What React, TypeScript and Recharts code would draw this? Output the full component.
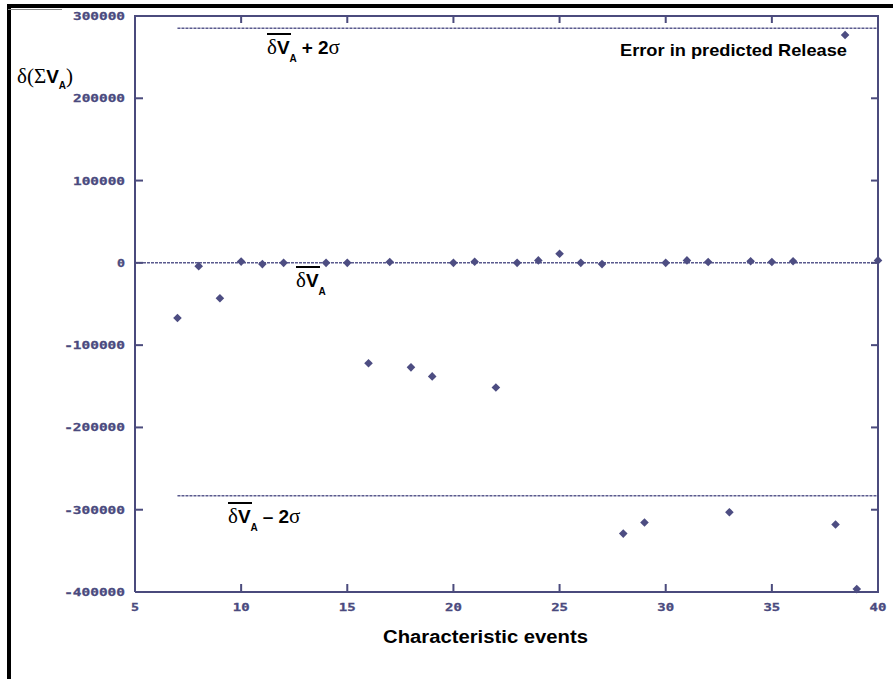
import React from 'react';
import { ScatterChart, Scatter, XAxis, YAxis, ReferenceLine } from 'recharts';

// ---- data ----
const events = [7, 8, 9, 10, 11, 12, 14, 15, 16, 17, 18, 19, 20, 21, 22, 23, 24, 25, 26, 27, 28, 29, 30, 31, 32, 33, 34, 35, 36, 38, 38.45, 39, 40];
const errors = [-67000, -4000, -43000, 1500, -1500, 0, 0, 0, -122000, 1000, -127000, -138000, 0, 1300, -151500, 0, 3000, 11000, 0, -1500, -329000, -315500, 0, 3000, 1000, -303000, 2000, 1000, 2000, -318000, 277000, -396500, 3000];
const xTicks = [5, 10, 15, 20, 25, 30, 35, 40];
const yTicks = [-400000, -300000, -200000, -100000, 0, 100000, 200000, 300000];
const xDomain = [5, 40];
const yDomain = [-400000, 300000];
const meanValue = 0;
const upperBound = 285000;
const lowerBound = -283000;
const boundStart = 7;
const boundEnd = 40;

const data = events.map((x, i) => ({ x, y: errors[i] }));

// ---- layout ----
const W = 893;
const H = 679;
const MARGIN = { top: 16, right: 15, bottom: 57, left: 75 };
const Y_AXIS_W = 60;
const X_AXIS_H = 30;
const PLOT_L = MARGIN.left + Y_AXIS_W;
const PLOT_T = MARGIN.top;
const PLOT_W = W - MARGIN.left - MARGIN.right - Y_AXIS_W;
const PLOT_H = H - MARGIN.top - MARGIN.bottom - X_AXIS_H;
const PLOT_R = PLOT_L + PLOT_W;
const PLOT_B = PLOT_T + PLOT_H;
// same linear mapping as the chart axes, used only for the axis frame decoration
const sx = (v: number) => PLOT_L + ((v - xDomain[0]) / (xDomain[1] - xDomain[0])) * PLOT_W;
const sy = (v: number) => PLOT_T + ((yDomain[1] - v) / (yDomain[1] - yDomain[0])) * PLOT_H;

const NAVY = '#4a4a7c';
const FRAME_FILL = '#4b4b7d';
const TICK_COLOR = '#4a4a7e';
const SERIF = "'Liberation Serif', 'DejaVu Serif', serif";
const SANS = "'Liberation Sans', Arial, sans-serif";
const MONO = "'DejaVu Sans Mono', monospace";

const tickText = (s: string, x: number, y: number, anchor: string) => (
  <text
    x={x}
    y={y}
    textAnchor={anchor}
    fill={TICK_COLOR}
    stroke={TICK_COLOR}
    strokeWidth={0.3}
    fontFamily={MONO}
    fontWeight="bold"
    fontSize={11}
    textLength={s.length * 8.8 - 0.8}
    lengthAdjust="spacingAndGlyphs"
  >
    {s}
  </text>
);

const renderLeftTick = (props: any) => {
  const { x, y, payload } = props;
  return <g>{tickText(String(payload.value), x - 10, y + 4, 'end')}</g>;
};

const renderBottomTick = (props: any) => {
  const { x, y, payload } = props;
  return <g>{tickText(String(payload.value), x, y + 19, 'middle')}</g>;
};

const Diamond = (props: any) => {
  const { cx, cy } = props;
  if (cx == null || cy == null) return null;
  const r = 4.3;
  return (
    <polygon
      points={`${cx},${cy - r} ${cx + r},${cy} ${cx},${cy + r} ${cx - r},${cy}`}
      fill="#4d4d82"
    />
  );
};

const DeltaV = ({ x, y, op }: { x: number; y: number; op?: string }) => (
  <g>
    <rect x={x} y={y - 21} width={24} height={2} fill="#000" />
    <text x={x} y={y} fill="#000">
      <tspan fontFamily={SERIF} fontSize={21}>δ</tspan>
      <tspan fontFamily={SANS} fontWeight="bold" fontSize={19}>V</tspan>
      <tspan fontFamily={SANS} fontWeight="bold" fontSize={10} dy={8}>A</tspan>
      {op ? (
        <>
          <tspan fontFamily={SANS} fontWeight="bold" fontSize={19} dy={-8} dx={5}>{op}</tspan>
          <tspan fontFamily={SANS} fontWeight="bold" fontSize={19} dx={5}>2</tspan>
          <tspan fontFamily={SERIF} fontSize={21}>σ</tspan>
        </>
      ) : null}
    </text>
  </g>
);

export default function App() {
  const lineProps = {
    xAxisId: 'b',
    yAxisId: 'l',
    stroke: '#5a5a8e',
    strokeWidth: 1.5,
    strokeDasharray: '3 1',
  };
  const axisLine = { stroke: NAVY, strokeWidth: 2 };
  return (
    <div style={{ position: 'absolute', left: 0, top: 0, width: W, height: H, background: '#fff' }}>
      <ScatterChart width={W} height={H} margin={MARGIN}>
        <XAxis
          xAxisId="b"
          dataKey="x"
          type="number"
          domain={xDomain}
          ticks={xTicks}
          interval={0}
          height={X_AXIS_H}
          tickSize={0}
          tickMargin={0}
          tickLine={false}
          axisLine={axisLine}
          tick={renderBottomTick}
        />
        <YAxis
          yAxisId="l"
          dataKey="y"
          type="number"
          domain={yDomain}
          ticks={yTicks}
          interval={0}
          width={Y_AXIS_W}
          tickSize={0}
          tickMargin={0}
          tickLine={false}
          axisLine={axisLine}
          tick={renderLeftTick}
        />
        <ReferenceLine
          {...lineProps}
          segment={[{ x: boundStart, y: upperBound }, { x: boundEnd, y: upperBound }]}
        />
        <ReferenceLine
          {...lineProps}
          segment={[{ x: boundStart, y: lowerBound }, { x: boundEnd, y: lowerBound }]}
        />
        <ReferenceLine {...lineProps} y={meanValue} />
        <Scatter
          xAxisId="b"
          yAxisId="l"
          data={data}
          shape={<Diamond />}
          isAnimationActive={false}
        />
      </ScatterChart>
      <svg
        width={W}
        height={H}
        style={{ position: 'absolute', left: 0, top: 0, pointerEvents: 'none' }}
      >
        {/* outer black frame */}
        <rect x={7} y={4} width={886} height={4} fill="#000" />
        <rect x={7} y={4} width={4} height={675} fill="#000" />
        <rect x={8} y={9} width={54} height={1} fill="#888" />
        {/* plot frame: top and right edges + inward tick marks */}
        <rect x={PLOT_L - 1} y={PLOT_T - 1} width={PLOT_W + 2} height={2} fill={FRAME_FILL} />
        <rect x={PLOT_R - 1} y={PLOT_T - 1} width={2} height={PLOT_H + 2} fill={FRAME_FILL} />
        {xTicks.map((t) => (
          <g key={`xt${t}`}>
            <rect x={sx(t) - 1} y={PLOT_B - 8} width={2} height={8} fill={FRAME_FILL} />
            <rect x={sx(t) - 1} y={PLOT_T} width={2} height={7} fill={FRAME_FILL} />
          </g>
        ))}
        {yTicks.map((t) => (
          <g key={`yt${t}`}>
            <rect x={PLOT_L} y={sy(t) - 1} width={8} height={2} fill={FRAME_FILL} />
            <rect x={PLOT_R - 7} y={sy(t) - 1} width={7} height={2} fill={FRAME_FILL} />
          </g>
        ))}
        <text x={17} y={83} fill="#000">
          <tspan fontFamily={SERIF} fontSize={21}>δ(Σ</tspan>
          <tspan fontFamily={SANS} fontWeight="bold" fontSize={19}>V</tspan>
          <tspan fontFamily={SANS} fontWeight="bold" fontSize={10} dy={6}>A</tspan>
          <tspan fontFamily={SERIF} fontSize={21} dy={-6}>)</tspan>
        </text>
        <DeltaV x={267} y={54} op="+" />
        <DeltaV x={296} y={287} />
        <DeltaV x={228} y={523} op="–" />
        <text x={620} y={56} fontFamily={SANS} fontWeight="bold" fontSize={17} fill="#000" textLength={227} lengthAdjust="spacingAndGlyphs">
          Error in predicted Release
        </text>
        <text x={383} y={643} fontFamily={SANS} fontWeight="bold" fontSize={18} fill="#000" textLength={205} lengthAdjust="spacingAndGlyphs">
          Characteristic events
        </text>
      </svg>
    </div>
  );
}
